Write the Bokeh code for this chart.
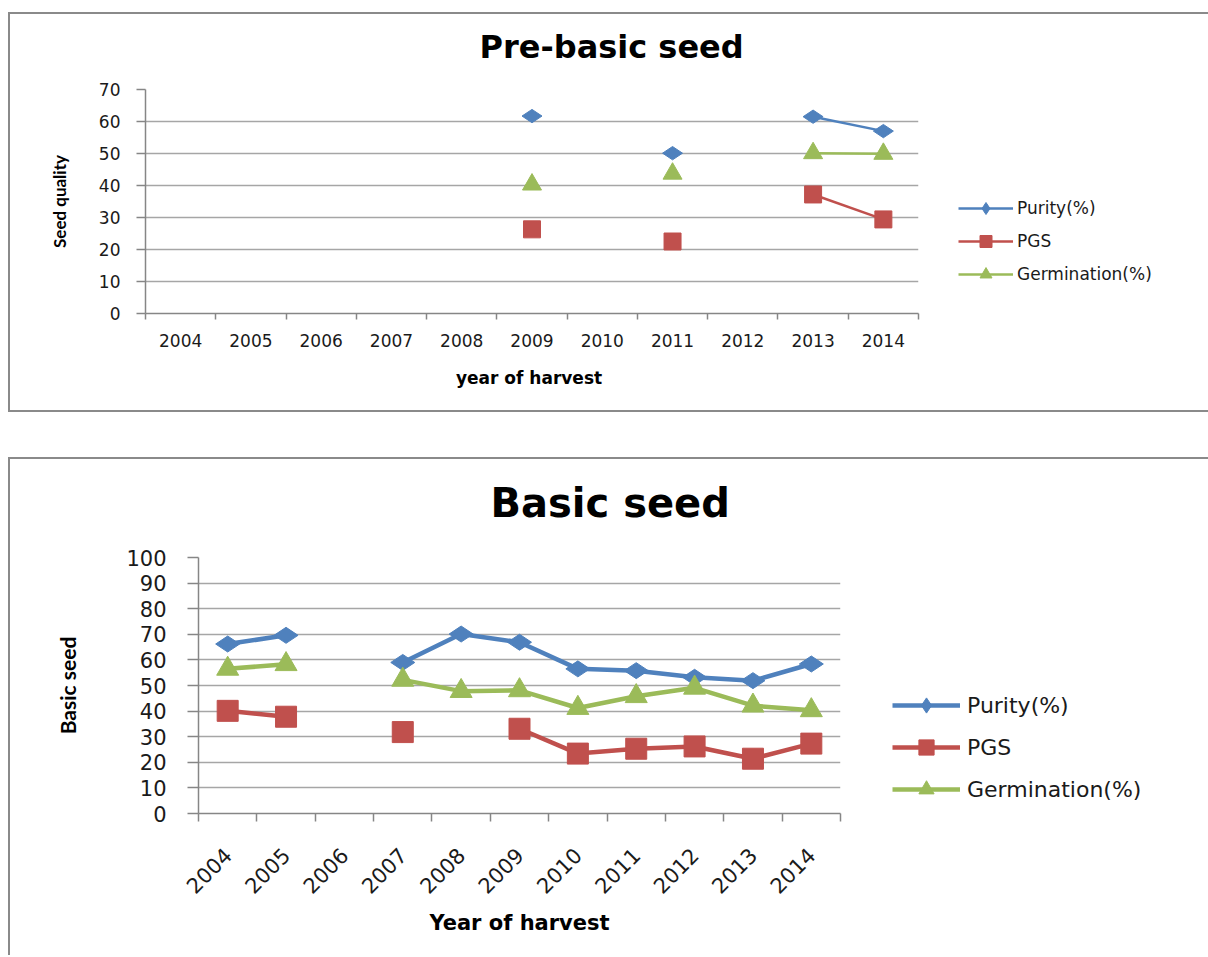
import math
from bokeh.plotting import figure
from bokeh.models import Range1d, FixedTicker, SingleIntervalTicker, Title
from bokeh.embed import file_html
from bokeh.resources import INLINE

nan = float("nan")

# ---------------- data ----------------
years = [2004, 2005, 2006, 2007, 2008, 2009, 2010, 2011, 2012, 2013, 2014]

# Pre-basic seed
pre_purity = [nan, nan, nan, nan, nan, 61.7, nan, 50.1, nan, 61.5, 57.0]
pre_pgs    = [nan, nan, nan, nan, nan, 26.3, nan, 22.5, nan, 37.2, 29.4]
pre_germ   = [nan, nan, nan, nan, nan, 40.3, nan, 43.7, nan, 50.1, 49.9]

# Basic seed
bas_purity = [66.2, 69.6, nan, 59.0, 70.1, 66.9, 56.5, 55.8, 53.2, 51.9, 58.4]
bas_pgs    = [40.1, 37.8, nan, 31.8, nan, 33.1, 23.4, 25.3, 26.2, 21.4, 27.3]
bas_germ   = [56.5, 58.3, nan, 52.2, 47.8, 48.1, 41.2, 45.8, 49.1, 42.1, 40.3]

series_names = ["Purity(%)", "PGS", "Germination(%)"]
colors = ["#4F81BD", "#C0504D", "#9BBB59"]
markers = ["diamond", "square", "triangle"]

AXIS = "#868686"
GRID = "#a6a6a6"
BOX = "#8a8a8a"
TICK_FONT = "DejaVu Sans"


def build(cfg, series):
    p = figure(
        frame_width=cfg["fw"], frame_height=cfg["fh"],
        min_border_left=cfg["bl"], min_border_right=cfg["br"],
        min_border_top=cfg["bt"], min_border_bottom=cfg["bb"],
        x_range=Range1d(years[0] - 0.5, years[-1] + 0.5),
        y_range=Range1d(0, cfg["ymax"]),
        output_backend="svg", toolbar_location=None,
        background_fill_color="white", border_fill_color="white",
        outline_line_color=None,
        styles=cfg["styles"],
        title=cfg["title"],
    )
    t = p.title
    t.align = "left"
    t.offset = cfg["title_off"]
    t.standoff = 2
    t.text_font = "DejaVu Sans"
    t.text_font_style = "bold"
    t.text_font_size = cfg["title_fs"]
    t.text_color = "black"
    # blank spacer band between the title and the plot area
    p.add_layout(Title(text=" ", text_font_size="12px", standoff=cfg["gap_stand"]), "above")

    bounds = [y - 0.5 for y in years] + [years[-1] + 0.5]
    xa = p.xaxis[0]
    xa.ticker = FixedTicker(ticks=years, minor_ticks=bounds)
    xa.major_label_overrides = {y: str(y) for y in years}
    xa.major_tick_in = 0
    xa.major_tick_out = 0
    xa.major_tick_line_color = None
    xa.minor_tick_in = 0
    xa.minor_tick_out = cfg["xtick"]
    xa.minor_tick_line_color = AXIS
    xa.minor_tick_line_width = 1.5
    xa.axis_line_color = AXIS
    xa.axis_line_width = 1.5
    xa.major_label_text_font = TICK_FONT
    xa.major_label_text_font_size = cfg["tick_fs"]
    xa.major_label_text_color = "#1a1a1a"
    xa.major_label_standoff = cfg["xstand"]
    if cfg["rot"]:
        xa.major_label_orientation = math.pi / 4
    xa.axis_label = cfg["xlabel"]
    xa.axis_label_text_font = "DejaVu Sans"
    xa.axis_label_text_font_style = "bold"
    xa.axis_label_text_font_size = cfg["xlab_fs"]
    xa.axis_label_text_color = "black"
    xa.axis_label_standoff = cfg["xlab_stand"]

    ya = p.yaxis[0]
    ya.ticker = SingleIntervalTicker(interval=10, num_minor_ticks=0)
    ya.major_tick_in = 0
    ya.major_tick_out = cfg["ytick"]
    ya.major_tick_line_color = AXIS
    ya.major_tick_line_width = 1.5
    ya.minor_tick_line_color = None
    ya.axis_line_color = AXIS
    ya.axis_line_width = 1.5
    ya.major_label_text_font = TICK_FONT
    ya.major_label_text_font_size = cfg["tick_fs"]
    ya.major_label_text_color = "#1a1a1a"
    ya.major_label_standoff = cfg["ystand"]
    ya.axis_label = cfg["ylabel"]
    ya.axis_label_text_font = "Lato"
    ya.axis_label_text_font_style = "bold"
    ya.axis_label_text_font_size = cfg["ylab_fs"]
    ya.axis_label_text_color = "black"
    ya.axis_label_standoff = cfg["ylab_stand"]

    p.xgrid.visible = False
    p.ygrid.ticker = SingleIntervalTicker(interval=10, num_minor_ticks=0)
    p.ygrid.grid_line_color = GRID
    p.ygrid.grid_line_width = 1.5

    for name, vals, col, mk, ms in zip(series_names, series, colors, markers, cfg["msizes"]):
        p.line(years, vals, line_color=col, line_width=cfg["lw"], legend_label=name)
        ang = math.pi / 2 if mk == "diamond" else 0
        p.scatter(years, vals, marker=mk, size=ms, angle=ang,
                  fill_color=col, line_color=col, legend_label=name)

    lg = p.legend[0]
    p.center.remove(lg)
    p.add_layout(lg, "right")
    lg.location = cfg["leg_loc"]
    lg.border_line_color = None
    lg.background_fill_alpha = 0
    lg.padding = 0
    lg.margin = 0
    lg.spacing = cfg["leg_spacing"]
    lg.glyph_width = cfg["leg_gw"]
    lg.glyph_height = cfg["leg_gh"]
    lg.label_height = cfg["leg_gh"]
    lg.label_standoff = cfg["leg_stand"]
    lg.label_text_font = TICK_FONT
    lg.label_text_font_size = cfg["leg_fs"]
    lg.label_text_color = "#1a1a1a"
    return p


border = "2px solid " + BOX
cfg1 = dict(
    fw=773, fh=224, bl=135, br=288, bt=75, bb=97, ymax=70,
    styles={"margin-left": "8px", "margin-top": "12px",
            "border-left": border, "border-top": border, "border-bottom": border},
    xtick=6, ytick=9, tick_fs="17px", xstand=14, ystand=16, rot=False,
    xlabel="year of  harvest", xlab_fs="17px", xlab_stand=18,
    ylabel="Seed quality", ylab_fs="17px", ylab_stand=26,
    msizes=[20, 17, 19], lw=2.5,
    leg_loc=(40, 24), leg_spacing=3, leg_gw=55, leg_gh=30, leg_stand=4, leg_fs="17px",
    title="Pre-basic seed", title_fs="32px", title_off=334, gap_stand=7,
)
cfg2 = dict(
    fw=642, fh=256, bl=188, br=366, bt=98, bb=142, ymax=100,
    styles={"margin-left": "8px", "margin-top": "45px",
            "border-left": border, "border-top": border},
    xtick=8, ytick=11, tick_fs="21px", xstand=30, ystand=21, rot=True,
    xlabel="Year of harvest", xlab_fs="21px", xlab_stand=7,
    ylabel="Basic seed", ylab_fs="21px", ylab_stand=43,
    msizes=[24, 21, 22], lw=4.5,
    leg_loc=(52, 5), leg_spacing=4, leg_gw=68, leg_gh=38, leg_stand=7, leg_fs="22px",
    title="Basic seed", title_fs="40px", title_off=292, gap_stand=15,
)

p1 = build(cfg1, [pre_purity, pre_pgs, pre_germ])
p2 = build(cfg2, [bas_purity, bas_pgs, bas_germ])

open("out.html", "w").write(file_html([p1, p2], INLINE))
